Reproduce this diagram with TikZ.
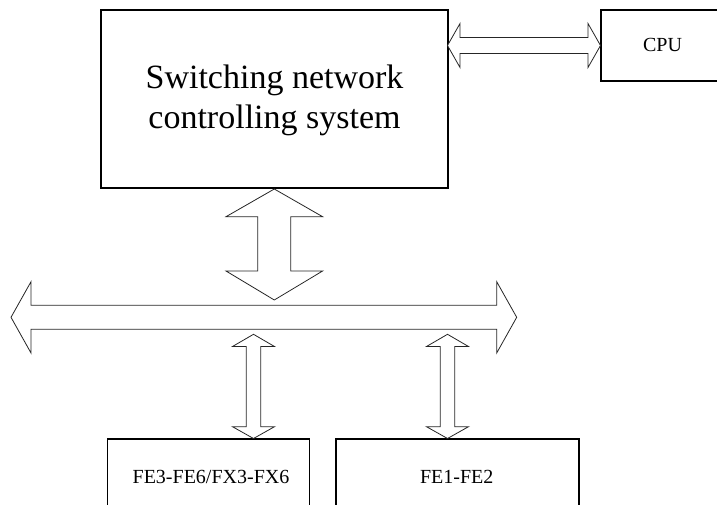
\documentclass[tikz,border=0pt]{standalone}
\usepackage{fontspec}
\setmainfont{Liberation Serif}
\begin{document}
\begin{tikzpicture}[x=1pt,y=-1pt,
  blockbox/.style={draw=black,line width=1.4pt},
  blockarrow/.style={draw=black!85,line width=0.8pt,line join=miter,fill=white},
  bigtext/.style={font=\fontsize{34}{40}\selectfont,align=center,inner sep=0pt},
  smalltext/.style={font=\fontsize{20}{24}\selectfont,inner sep=0pt}]
\useasboundingbox (0,0) rectangle (717,505);
\clip (0,0) rectangle (717,505);
% boxes
\draw[blockbox] (101,10) rectangle (448,188);
\draw[blockbox] (601,10) rectangle (725,81);
\draw[blockbox] (107.3,439) rectangle (309.3,520);
\draw[blockbox] (336,439) rectangle (579,520);
% named points
\coordinate (mainS) at (274.3,188.5);
\coordinate (mainE) at (448,45.5);
\coordinate (cpuW) at (601,45.5);
% texts
\node[bigtext] (main) at (274.5,100) {Switching network\\controlling system};
\node[smalltext] (cpu) at (662.5,44.7) {CPU};
\node[smalltext] (fea) at (211,476.7) {FE3-FE6/FX3-FX6};
\node[smalltext] (feb) at (456.7,476.7) {FE1-FE2};
% top horizontal double arrow
\draw[blockarrow] (447.5,45.5) -- (460,23.5) -- (460,37.5) -- (588,37.5) -- (588,23.5)
  -- (600.5,45.5) -- (588,67.5) -- (588,53.5) -- (460,53.5) -- (460,67.5) -- cycle;
% big vertical double arrow
\draw[blockarrow] (274.3,189) -- (322.6,216.7) -- (290.8,216.7) -- (290.8,271) -- (322.6,271)
  -- (274.3,300) -- (226,271) -- (257.8,271) -- (257.8,216.7) -- (226,216.7) -- cycle;
% bus arrow
\draw[blockarrow] (11,317.3) -- (31,281.7) -- (31,305.3) -- (496.7,305.3) -- (496.7,281.7)
  -- (516.7,317.3) -- (496.7,353) -- (496.7,329.3) -- (31,329.3) -- (31,353) -- cycle;
% small vertical arrows
\foreach \cx in {253.5,447.5}{
  \draw[blockarrow] (\cx,334.3) -- ({\cx+21},346.5) -- ({\cx+7.2},346.5) -- ({\cx+7.2},426.7)
    -- ({\cx+21},426.7) -- (\cx,438.5) -- ({\cx-21},426.7) -- ({\cx-7.2},426.7)
    -- ({\cx-7.2},346.5) -- ({\cx-21},346.5) -- cycle;
}
\end{tikzpicture}
\end{document}
